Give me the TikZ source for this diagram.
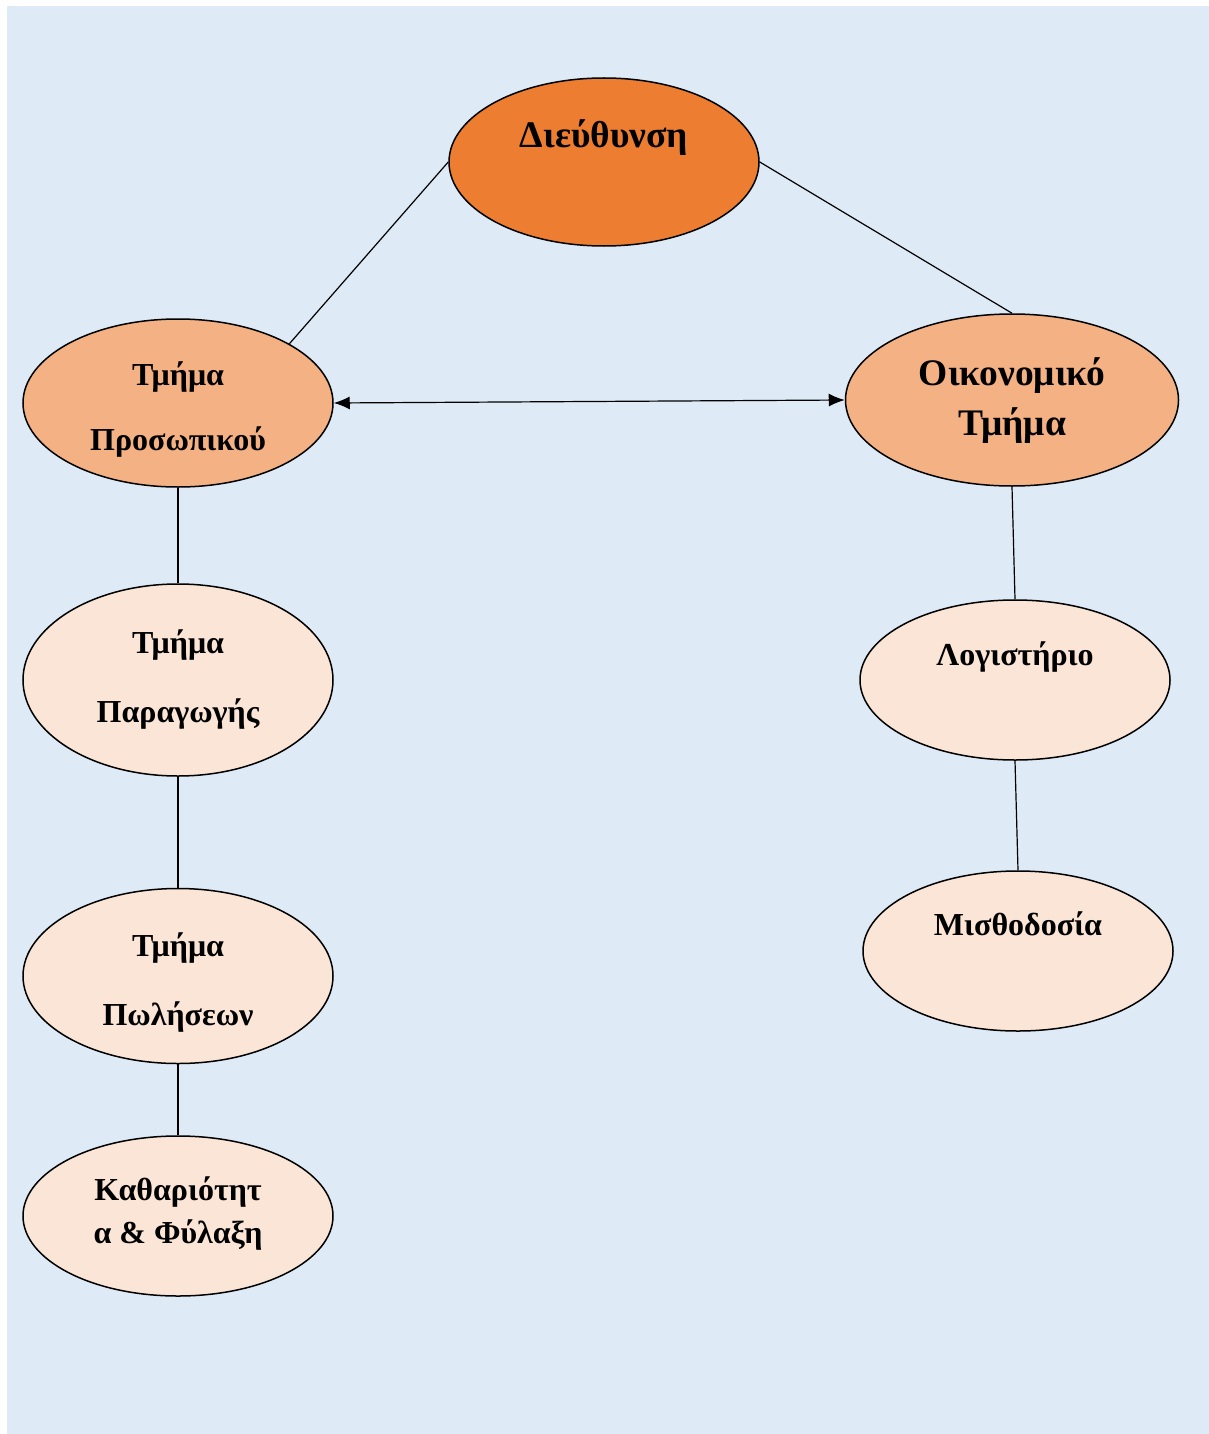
\documentclass[tikz,border=0pt]{standalone}
\usepackage{fontspec}
\setmainfont{Liberation Serif}
\usepackage{xcolor}
\definecolor{bgblue}{HTML}{DEEAF6}
\definecolor{darkorange}{HTML}{ED7D31}
\definecolor{midorange}{HTML}{F4B183}
\definecolor{lightorange}{HTML}{FBE5D6}
\usetikzlibrary{arrows.meta, calc, shapes.geometric}

\begin{document}
\begin{tikzpicture}
    [x=1pt, y=-1pt,
     unit/.style={ellipse, draw, line width=1.5pt, inner sep=0pt,
        minimum width=310pt, minimum height=168pt},
     word/.style={anchor=base, inner sep=0pt,
        font=\bfseries\fontsize{32}{38}\selectfont},
     bigword/.style={word, font=\bfseries\fontsize{37.5}{45}\selectfont},
     link/.style={line width=1.2pt},
     twoway/.style={{Latex[length=16pt, width=13pt]}-{Latex[length=16pt, width=13pt]}}]
    \useasboundingbox (0,0) rectangle (1209,1434);
    \fill[bgblue] (7,6) rectangle (1209,1434);
    % ellipses
    \node[unit, fill=darkorange] (dir) at (604,162) {};
    \node[unit, fill=midorange] (pers) at (178,403) {};
    \node[unit, fill=midorange, minimum width=333pt, minimum height=172pt]
        (econ) at (1012,400) {};
    \node[unit, fill=lightorange, minimum height=192pt] (prod) at (178,680) {};
    \node[unit, fill=lightorange, minimum height=175pt] (sales) at (178,976) {};
    \node[unit, fill=lightorange, minimum height=160pt] (clean) at (178,1216) {};
    \node[unit, fill=lightorange, minimum height=160pt] (acc) at (1015,680) {};
    \node[unit, fill=lightorange, minimum height=160pt] (pay) at (1018,951) {};
    % text
    \node[bigword] (dir-a) at (604,148) {Διεύθυνση};
    \node[word] (pers-a) at (178,385) {Τμήμα};
    \node[word] (pers-b) at (178,450) {Προσωπικού};
    \node[bigword] (econ-a) at (1012,385) {Οικονομικό};
    \node[bigword] (econ-b) at (1012,435) {Τμήμα};
    \node[word] (prod-a) at (178,653) {Τμήμα};
    \node[word] (prod-b) at (178,722) {Παραγωγής};
    \node[word] (sales-a) at (178,956) {Τμήμα};
    \node[word] (sales-b) at (178,1025) {Πωλήσεων};
    \node[word] (clean-a) at (178,1200) {Καθαριότητ};
    \node[word] (clean-b) at (178,1243) {α \& Φύλαξη};
    \node[word] (acc-a) at (1015,665) {Λογιστήριο};
    \node[word] (pay-a) at (1018,935) {Μισθοδοσία};
    % links
    \draw[link] (dir.west) -- (pers.28.6);
    \draw[link] (dir.east) -- (econ.north);
    \draw[link, twoway] (pers.east) -- (econ.west);
    \draw[link] (pers.south) -- (prod.north);
    \draw[link] (prod.south) -- (sales.north);
    \draw[link] (sales.south) -- (clean.north);
    \draw[link] (econ.south) -- (acc.north);
    \draw[link] (acc.south) -- (pay.north);
\end{tikzpicture}
\end{document}
